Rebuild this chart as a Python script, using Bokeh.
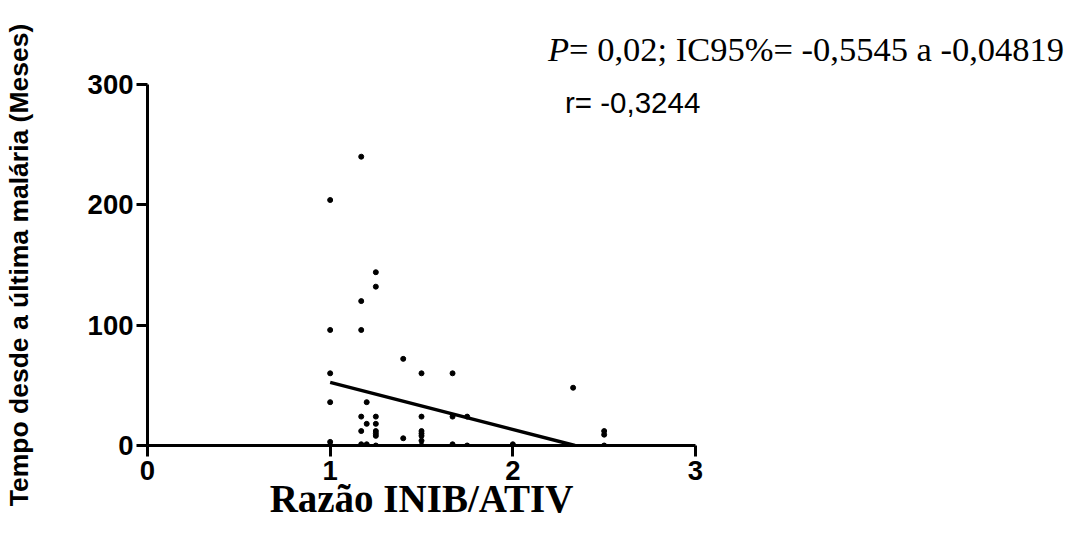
from bokeh.plotting import figure
from bokeh.models import Range1d, FixedTicker, Div
from bokeh.layouts import column
from bokeh.embed import file_html
from bokeh.resources import INLINE

# Ratio INIB/ATIV vs months since last malaria episode
razao = [1.0, 1.0, 1.0, 1.0, 1.0, 1.0,
         1.17, 1.17, 1.17, 1.17, 1.17, 1.17,
         1.2, 1.2, 1.2,
         1.25, 1.25, 1.25, 1.25, 1.25, 1.25, 1.25, 1.25,
         1.4, 1.4,
         1.5, 1.5, 1.5, 1.5, 1.5, 1.5, 1.5,
         1.67, 1.67, 1.67,
         1.75, 1.75,
         2.0,
         2.33,
         2.5, 2.5, 2.5]
meses = [204, 96, 60, 36, 3, 0,
         240, 120, 96, 24, 12, 1,
         36, 18, 1,
         144, 132, 24, 18, 12, 10, 8, 0,
         72, 6,
         60, 24, 12, 10, 8, 4, 0,
         60, 24, 1,
         24, 0,
         1,
         48,
         12, 9, 0]

# Linear regression line (clipped at the x axis)
fit_x = [1.0, 2.34]
fit_y = [52.5, 0.0]

x_ticks = [0, 1, 2, 3]
y_ticks = [0, 100, 200, 300]

# Correlation statistics shown at the top right
stats_html = (
    '<div style="position:absolute; left:548px; top:32px; font-family:\'Liberation Serif\';'
    ' font-size:34.5px; line-height:34px; white-space:nowrap; color:black">'
    '<i>P</i>= 0,02; IC95%= -0,5545 a -0,04819</div>'
    '<div style="position:absolute; left:565px; top:88px; font-family:\'Liberation Sans\';'
    ' font-size:29.5px; line-height:29.5px; white-space:nowrap; color:black">'
    'r= -0,3244</div>'
)
header = Div(text=stats_html, width=1069, height=130, margin=0,
             styles={"position": "absolute", "top": "0px", "left": "0px"})

p = figure(width=1069, height=533, output_backend="svg", toolbar_location=None,
           x_range=Range1d(0, 3), y_range=Range1d(0, 300),
           min_border_left=143, min_border_right=374,
           min_border_top=84, min_border_bottom=88, margin=0)
p.outline_line_color = None
p.xgrid.visible = False
p.ygrid.visible = False
p.background_fill_color = None
p.border_fill_color = None

p.line(fit_x, fit_y, line_color="black", line_width=3.5)
p.scatter(razao, meses, size=5, color="black")

for ax, ticks in ((p.xaxis[0], x_ticks), (p.yaxis[0], y_ticks)):
    ax.ticker = FixedTicker(ticks=ticks)
    ax.axis_line_width = 3
    ax.axis_line_color = "black"
    ax.major_tick_line_width = 3
    ax.major_tick_line_color = "black"
    ax.major_tick_out = 11
    ax.major_tick_in = 0
    ax.minor_tick_line_color = None
    ax.major_label_text_font = "Liberation Sans"
    ax.major_label_text_font_style = "bold"
    ax.major_label_text_font_size = "27.5px"
    ax.major_label_text_color = "black"
p.xaxis.major_label_standoff = 4
p.yaxis.major_label_standoff = 3

p.xaxis.axis_label = "Razão INIB/ATIV"
p.xaxis.axis_label_text_font = "Liberation Serif"
p.xaxis.axis_label_text_font_style = "bold"
p.xaxis.axis_label_text_font_size = "39px"
p.xaxis.axis_label_text_color = "black"
p.xaxis.axis_label_standoff = -6

p.yaxis.axis_label = "Tempo desde a última malária (Meses)"
p.yaxis.axis_label_text_font = "Liberation Sans"
p.yaxis.axis_label_text_font_style = "bold"
p.yaxis.axis_label_text_font_size = "26.5px"
p.yaxis.axis_label_text_color = "black"
p.yaxis.axis_label_standoff = 51

layout = column(p, header, spacing=0)
open("out.html", "w").write(file_html(layout, INLINE))
